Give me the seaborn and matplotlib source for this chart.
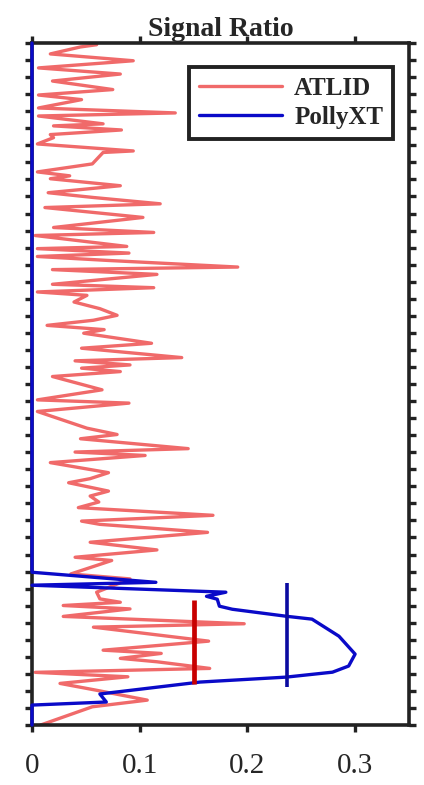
import numpy as np
import pandas as pd
import matplotlib
matplotlib.use('Agg')
import matplotlib.pyplot as plt
import seaborn as sns
from matplotlib.lines import Line2D

# ATLID signal ratio profile (ratio, height in km), read top to bottom
atlid_ratio = [0.060, 0.045, 0.017, 0.094, 0.006, 0.082, 0.019, 0.075, 0.006, 0.046,
               0.006, 0.133, 0.006, 0.066, 0.020, 0.083, 0.017, 0.020, 0.005, 0.094,
               0.066, 0.056, 0.005, 0.035, 0.017, 0.082, 0.015, 0.057, 0.119, 0.012,
               0.103, 0.020, 0.113, 0.003, 0.088, 0.005, 0.090, 0.005, 0.070, 0.191,
               0.019, 0.116, 0.019, 0.113, 0.005, 0.051, 0.039, 0.063, 0.079, 0.057,
               0.014, 0.067, 0.048, 0.111, 0.046, 0.139, 0.040, 0.091, 0.046, 0.082,
               0.019, 0.065, 0.005, 0.090, 0.005, 0.051, 0.079, 0.045, 0.145, 0.040,
               0.105, 0.017, 0.071, 0.054, 0.034, 0.071, 0.054, 0.062, 0.043, 0.168,
               0.046, 0.063, 0.163, 0.054, 0.116, 0.040, 0.074, 0.036, 0.091, 0.060,
               0.063, 0.082, 0.029, 0.091, 0.029, 0.197, 0.057, 0.164, 0.066, 0.120,
               0.082, 0.116, 0.165, 0.003, 0.089, 0.026, 0.059, 0.107, 0.056, 0.008]
atlid_height = [3.990, 3.977, 3.936, 3.896, 3.854, 3.818, 3.777, 3.727, 3.695, 3.668,
                3.619, 3.590, 3.572, 3.526, 3.514, 3.490, 3.463, 3.445, 3.408, 3.367,
                3.358, 3.291, 3.244, 3.221, 3.204, 3.163, 3.122, 3.094, 3.057, 3.035,
                2.977, 2.918, 2.889, 2.871, 2.807, 2.794, 2.768, 2.748, 2.725, 2.686,
                2.671, 2.643, 2.585, 2.565, 2.540, 2.520, 2.481, 2.442, 2.403, 2.374,
                2.344, 2.319, 2.298, 2.239, 2.210, 2.155, 2.136, 2.112, 2.093, 2.073,
                2.044, 1.966, 1.907, 1.888, 1.839, 1.741, 1.704, 1.679, 1.621, 1.601,
                1.581, 1.539, 1.480, 1.445, 1.421, 1.372, 1.343, 1.308, 1.275, 1.230,
                1.196, 1.177, 1.130, 1.072, 1.027, 0.984, 0.965, 0.886, 0.857, 0.779,
                0.740, 0.720, 0.701, 0.681, 0.637, 0.594, 0.574, 0.492, 0.439, 0.420,
                0.391, 0.371, 0.332, 0.309, 0.283, 0.244, 0.205, 0.146, 0.107, 0.000]

# PollyXT signal ratio profile
polly_ratio = [0.0, 0.0, 0.115, 0.0, 0.180, 0.162, 0.172, 0.174, 0.186, 0.236, 0.260,
               0.285, 0.300, 0.294, 0.279, 0.236, 0.156, 0.063, 0.069, 0.0, 0.0]
polly_height = [4.0, 0.896, 0.837, 0.820, 0.779, 0.755, 0.738, 0.697, 0.679, 0.638, 0.621,
                0.521, 0.416, 0.346, 0.310, 0.281, 0.252, 0.182, 0.135, 0.117, 0.0]

# layer mean markers (x position, bottom, top)
atlid_mean, atlid_bar = 0.15, (0.240, 0.732)
polly_mean, polly_bar = 0.237, (0.223, 0.832)

red = '#F06A6A'
blue = '#0A0AC8'

sns.set_style('white')
plt.rcParams['font.family'] = ['Liberation Serif', 'DejaVu Serif']

fig = plt.figure(figsize=(4.24, 7.85), dpi=100)
ax = fig.add_axes([0.0755, 0.0764, 0.889, 0.8688])

atlid = pd.DataFrame({'ratio': atlid_ratio, 'height': atlid_height})
polly = pd.DataFrame({'ratio': polly_ratio, 'height': polly_height})

sns.lineplot(data=atlid, x='ratio', y='height', sort=False, estimator=None,
             color=red, linewidth=2.4, ax=ax, zorder=2)
sns.lineplot(data=polly, x='ratio', y='height', sort=False, estimator=None,
             color=blue, linewidth=2.4, ax=ax, zorder=4, clip_on=False)

ax.vlines(atlid_mean, *atlid_bar, color='#C80000', linewidth=3.4, zorder=5)
ax.vlines(polly_mean, *polly_bar, color='#0A0AA0', linewidth=2.6, zorder=5)

ax.set_xlim(0, 0.35)
ax.set_ylim(0, 4.0)
ax.set_xticks([0, 0.1, 0.2, 0.3])
ax.set_xticklabels(['0', '0.1', '0.2', '0.3'], fontsize=21)
ax.set_yticks(np.arange(0, 4.01, 0.1))
ax.set_yticklabels([])
ax.set_xlabel('')
ax.set_ylabel('')
ax.tick_params(axis='both', direction='out', length=5, width=2.4, color='#222222',
               top=True, right=True, bottom=True, left=True, pad=15)
for s in ax.spines.values():
    s.set_linewidth(2.6)
    s.set_color('#222222')

ax.set_title('Signal Ratio', fontsize=20, fontweight='bold', pad=5)

handles = [Line2D([], [], color=red, linewidth=2.4),
           Line2D([], [], color=blue, linewidth=2.4)]
leg = ax.legend(handles, ['ATLID', 'PollyXT'], loc='upper right',
                bbox_to_anchor=(0.958, 0.965), borderaxespad=0,
                fancybox=False, framealpha=1,
                edgecolor='#222222', prop={'weight': 'bold', 'size': 18},
                handlelength=3.3, handletextpad=0.5, borderpad=0.4,
                labelspacing=0.25)
leg.get_frame().set_linewidth(2.8)

fig.savefig('out.png', dpi=100)
